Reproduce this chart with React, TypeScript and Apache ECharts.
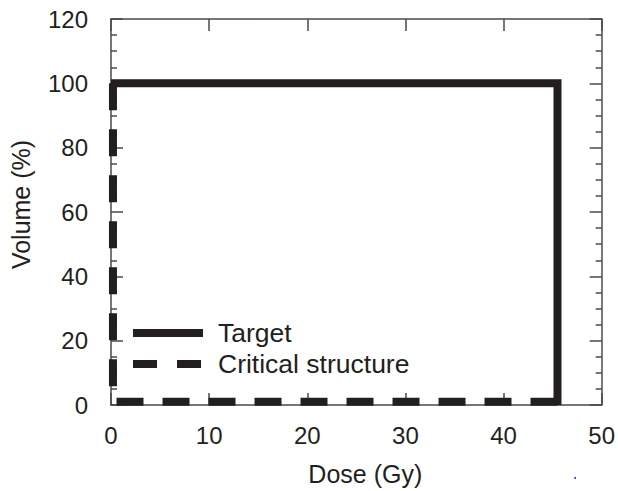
import React, { useEffect, useRef } from "react";
import * as echarts from "echarts";

const seriesNames = ["Target", "Critical structure"];
// [dose (Gy), volume (%)]
const targetDVH: [number, number][] = [
  [0, 100],
  [45.5, 100],
  [45.5, 0],
];
const criticalDVH: [number, number][] = [
  [0.2, 100],
  [0.2, 1],
  [45.5, 1],
];
const xTicks = { min: 0, max: 50, interval: 10 };
const yTicks = { min: 0, max: 120, interval: 20 };

const FONT = "'Liberation Sans', Arial, Helvetica, sans-serif";
const INK = "#231f20";
const AXIS = "#4a4a4a";

export default function App() {
  const ref = useRef<HTMLDivElement>(null);
  useEffect(() => {
    if (!ref.current) return;
    const chart = echarts.init(ref.current, undefined, { renderer: "svg" });
    const tickInside = { show: true, inside: true, length: 12, lineStyle: { color: AXIS, width: 1.5 } };
    const minorInside = { show: true, splitNumber: 4, length: 6, lineStyle: { color: AXIS, width: 1.5 } };
    const axisLine = { show: true, onZero: false, lineStyle: { color: AXIS, width: 1.5 } };
    const legendX = 133;
    const legendY = [333, 364];
    const legendLen = 70;
    const textX = 218;
    chart.setOption({
      animation: false,
      backgroundColor: "#ffffff",
      grid: { left: 110, top: 19, right: 16, bottom: 82, containLabel: false },
      xAxis: [
        {
          type: "value",
          position: "bottom",
          min: xTicks.min,
          max: xTicks.max,
          interval: xTicks.interval,
          name: "Dose (Gy)",
          nameLocation: "middle",
          nameGap: 56,
          nameTextStyle: { fontFamily: FONT, fontSize: 25, color: INK, padding: [0, 0, 0, 18], verticalAlign: "top" },
          axisLine,
          axisTick: tickInside,
          splitLine: { show: false },
          axisLabel: { fontFamily: FONT, fontSize: 24, color: INK, margin: 18 },
        },
        {
          type: "value",
          position: "top",
          min: xTicks.min,
          max: xTicks.max,
          interval: xTicks.interval,
          axisLine,
          axisTick: tickInside,
          splitLine: { show: false },
          axisLabel: { show: false },
        },
      ],
      yAxis: [
        {
          type: "value",
          position: "left",
          min: yTicks.min,
          max: yTicks.max,
          interval: yTicks.interval,
          name: "Volume (%)",
          nameLocation: "middle",
          nameGap: 78,
          nameRotate: 90,
          nameTextStyle: { fontFamily: FONT, fontSize: 25, color: INK, padding: [0, 0, 0, 15] },
          axisLine,
          axisTick: tickInside,
          minorTick: minorInside,
          splitLine: { show: false },
          minorSplitLine: { show: false },
          axisLabel: { fontFamily: FONT, fontSize: 24, color: INK, margin: 23 },
        },
        {
          type: "value",
          position: "right",
          min: yTicks.min,
          max: yTicks.max,
          interval: yTicks.interval,
          axisLine,
          axisTick: tickInside,
          minorTick: minorInside,
          splitLine: { show: false },
          minorSplitLine: { show: false },
          axisLabel: { show: false },
        },
      ],
      series: [
        {
          name: seriesNames[1],
          type: "line",
          data: criticalDVH,
          xAxisIndex: 0,
          yAxisIndex: 0,
          symbol: "none",
          clip: false,
          z: 3,
          lineStyle: { color: INK, width: 8, type: [27, 19], cap: "butt", join: "miter" },
          itemStyle: { color: INK },
        },
        {
          name: seriesNames[0],
          type: "line",
          data: targetDVH,
          xAxisIndex: 0,
          yAxisIndex: 0,
          symbol: "none",
          clip: false,
          z: 4,
          lineStyle: { color: INK, width: 8, type: "solid", cap: "butt", join: "miter" },
          itemStyle: { color: INK },
        },
      ],
      graphic: [
        {
          type: "line",
          shape: { x1: legendX, y1: legendY[0], x2: legendX + legendLen, y2: legendY[0] },
          style: { stroke: INK, lineWidth: 8, lineCap: "butt" },
          z: 10,
        },
        {
          type: "line",
          shape: { x1: legendX, y1: legendY[1], x2: legendX + legendLen, y2: legendY[1] },
          style: { stroke: INK, lineWidth: 8, lineCap: "butt", lineDash: [24, 20] },
          z: 10,
        },
        {
          type: "text",
          x: textX,
          y: legendY[0],
          style: { text: seriesNames[0], font: `26.5px ${FONT}`, fill: INK, verticalAlign: "middle", align: "left" },
          z: 10,
        },
        {
          type: "text",
          x: textX,
          y: legendY[1],
          style: { text: seriesNames[1], font: `26.5px ${FONT}`, fill: INK, verticalAlign: "middle", align: "left" },
          z: 10,
        },
        { type: "circle", shape: { cx: 575, cy: 478, r: 1 }, style: { fill: "#2a3bd8" } },
      ],
    });
    return () => chart.dispose();
  }, []);
  return (
    <div
      ref={ref}
      style={{ position: "fixed", left: 0, top: 0, width: 618, height: 491 }}
    />
  );
}
